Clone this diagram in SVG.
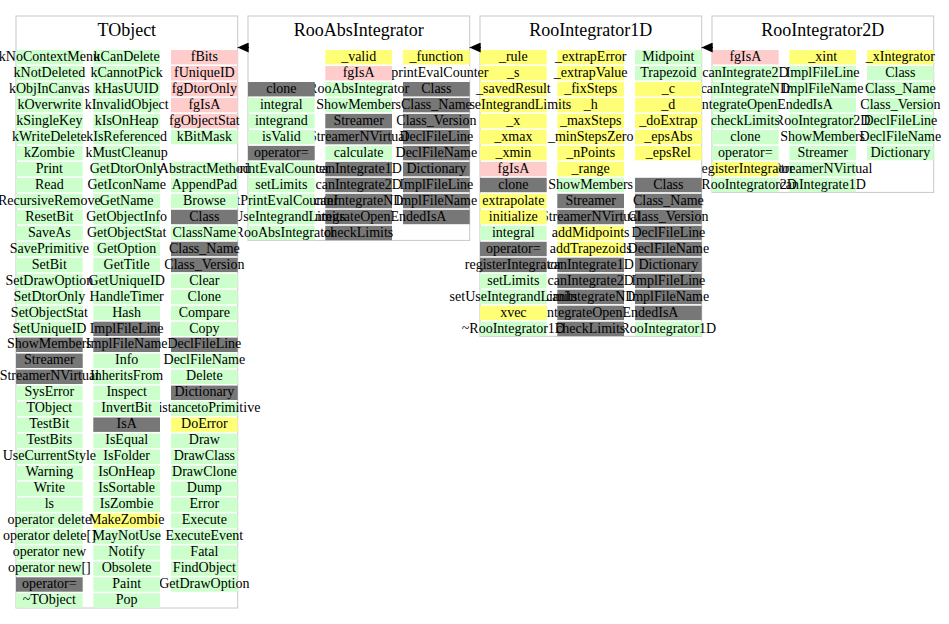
<svg xmlns="http://www.w3.org/2000/svg" width="949" height="624" viewBox="0 0 949 624">
<defs>
<style>
text{font-family:"Liberation Serif","Times New Roman",serif;font-size:14px;text-anchor:middle;fill:#000}
text.ttl{font-size:18px}
.box{fill:#fff;stroke:#c8c8c8;stroke-width:1}
.g{fill:#ccffcc}.p{fill:#ffcccc}.y{fill:#ffff77}.d{fill:#777777}.w{fill:#ffffff}
.edge{stroke:#000;stroke-width:1;fill:none}
</style>
<marker id="tri" viewBox="0 0 11 10" refX="11" refY="5" markerWidth="11" markerHeight="10" markerUnits="userSpaceOnUse" orient="auto">
<path d="M0,0 L11,5 L0,10 z" fill="#000"/>
</marker>
</defs>
<rect x="0" y="0" width="949" height="624" fill="#fff"/>

<g id="RooIntegrator2D">
<rect class="box" x="712" y="16" width="221.7" height="176.4"/>
<text class="ttl" x="822.8" y="36">RooIntegrator2D</text>
<g transform="translate(867,0)">
<rect class="y" x="0" y="50" width="66.7" height="14.4"/><text x="33.35" y="60.8">_xIntegrator</text>
<rect class="g" x="0" y="66" width="66.7" height="14.4"/><text x="33.35" y="76.8">Class</text>
<rect class="g" x="0" y="82" width="66.7" height="14.4"/><text x="33.35" y="92.8">Class_Name</text>
<rect class="g" x="0" y="97.9" width="66.7" height="14.4"/><text x="33.35" y="108.7">Class_Version</text>
<rect class="g" x="0" y="113.9" width="66.7" height="14.4"/><text x="33.35" y="124.7">DeclFileLine</text>
<rect class="g" x="0" y="129.9" width="66.7" height="14.4"/><text x="33.35" y="140.7">DeclFileName</text>
<rect class="g" x="0" y="145.9" width="66.7" height="14.4"/><text x="33.35" y="156.7">Dictionary</text>
</g>
<g transform="translate(789.3,0)">
<rect class="y" x="0" y="50" width="66.7" height="14.4"/><text x="33.35" y="60.8">_xint</text>
<rect class="g" x="0" y="66" width="66.7" height="14.4"/><text x="33.35" y="76.8">ImplFileLine</text>
<rect class="g" x="0" y="82" width="66.7" height="14.4"/><text x="33.35" y="92.8">ImplFileName</text>
<rect class="g" x="0" y="97.9" width="66.7" height="14.4"/><text x="33.35" y="108.7">IsA</text>
<rect class="g" x="0" y="113.9" width="66.7" height="14.4"/><text x="33.35" y="124.7">RooIntegrator2D</text>
<rect class="g" x="0" y="129.9" width="66.7" height="14.4"/><text x="33.35" y="140.7">ShowMembers</text>
<rect class="g" x="0" y="145.9" width="66.7" height="14.4"/><text x="33.35" y="156.7">Streamer</text>
<rect class="g" x="0" y="161.9" width="66.7" height="14.4"/><text x="33.35" y="172.7">StreamerNVirtual</text>
<rect class="g" x="0" y="177.8" width="66.7" height="14.4"/><text x="33.35" y="188.6">canIntegrate1D</text>
</g>
<g transform="translate(712,0)">
<rect class="p" x="0" y="50" width="66.7" height="14.4"/><text x="33.35" y="60.8">fgIsA</text>
<rect class="g" x="0" y="66" width="66.7" height="14.4"/><text x="33.35" y="76.8">canIntegrate2D</text>
<rect class="g" x="0" y="82" width="66.7" height="14.4"/><text x="33.35" y="92.8">canIntegrateND</text>
<rect class="g" x="0" y="97.9" width="66.7" height="14.4"/><text x="33.35" y="108.7">canIntegrateOpenEnded</text>
<rect class="g" x="0" y="113.9" width="66.7" height="14.4"/><text x="33.35" y="124.7">checkLimits</text>
<rect class="g" x="0" y="129.9" width="66.7" height="14.4"/><text x="33.35" y="140.7">clone</text>
<rect class="g" x="0" y="145.9" width="66.7" height="14.4"/><text x="33.35" y="156.7">operator=</text>
<rect class="y" x="0" y="161.9" width="66.7" height="14.4"/><text x="33.35" y="172.7">registerIntegrator</text>
<rect class="g" x="0" y="177.8" width="66.7" height="14.4"/><text x="33.35" y="188.6">~RooIntegrator2D</text>
</g>
</g>

<g id="RooIntegrator1D">
<rect class="box" x="480" y="16" width="221.7" height="320.3"/>
<text class="ttl" x="590.8" y="36">RooIntegrator1D</text>
<g transform="translate(635,0)">
<rect class="g" x="0" y="50" width="66.7" height="14.4"/><text x="33.35" y="60.8">Midpoint</text>
<rect class="g" x="0" y="66" width="66.7" height="14.4"/><text x="33.35" y="76.8">Trapezoid</text>
<rect class="y" x="0" y="82" width="66.7" height="14.4"/><text x="33.35" y="92.8">_c</text>
<rect class="y" x="0" y="97.9" width="66.7" height="14.4"/><text x="33.35" y="108.7">_d</text>
<rect class="y" x="0" y="113.9" width="66.7" height="14.4"/><text x="33.35" y="124.7">_doExtrap</text>
<rect class="y" x="0" y="129.9" width="66.7" height="14.4"/><text x="33.35" y="140.7">_epsAbs</text>
<rect class="y" x="0" y="145.9" width="66.7" height="14.4"/><text x="33.35" y="156.7">_epsRel</text>
<rect class="d" x="0" y="177.8" width="66.7" height="14.4"/><text x="33.35" y="188.6">Class</text>
<rect class="d" x="0" y="193.8" width="66.7" height="14.4"/><text x="33.35" y="204.6">Class_Name</text>
<rect class="d" x="0" y="209.8" width="66.7" height="14.4"/><text x="33.35" y="220.6">Class_Version</text>
<rect class="d" x="0" y="225.8" width="66.7" height="14.4"/><text x="33.35" y="236.6">DeclFileLine</text>
<rect class="d" x="0" y="241.8" width="66.7" height="14.4"/><text x="33.35" y="252.6">DeclFileName</text>
<rect class="d" x="0" y="257.7" width="66.7" height="14.4"/><text x="33.35" y="268.5">Dictionary</text>
<rect class="d" x="0" y="273.7" width="66.7" height="14.4"/><text x="33.35" y="284.5">ImplFileLine</text>
<rect class="d" x="0" y="289.7" width="66.7" height="14.4"/><text x="33.35" y="300.5">ImplFileName</text>
<rect class="d" x="0" y="305.7" width="66.7" height="14.4"/><text x="33.35" y="316.5">IsA</text>
<rect class="g" x="0" y="321.7" width="66.7" height="14.4"/><text x="33.35" y="332.5">RooIntegrator1D</text>
</g>
<g transform="translate(557.3,0)">
<rect class="y" x="0" y="50" width="66.7" height="14.4"/><text x="33.35" y="60.8">_extrapError</text>
<rect class="y" x="0" y="66" width="66.7" height="14.4"/><text x="33.35" y="76.8">_extrapValue</text>
<rect class="y" x="0" y="82" width="66.7" height="14.4"/><text x="33.35" y="92.8">_fixSteps</text>
<rect class="y" x="0" y="97.9" width="66.7" height="14.4"/><text x="33.35" y="108.7">_h</text>
<rect class="y" x="0" y="113.9" width="66.7" height="14.4"/><text x="33.35" y="124.7">_maxSteps</text>
<rect class="y" x="0" y="129.9" width="66.7" height="14.4"/><text x="33.35" y="140.7">_minStepsZero</text>
<rect class="y" x="0" y="145.9" width="66.7" height="14.4"/><text x="33.35" y="156.7">_nPoints</text>
<rect class="y" x="0" y="161.9" width="66.7" height="14.4"/><text x="33.35" y="172.7">_range</text>
<rect class="g" x="0" y="177.8" width="66.7" height="14.4"/><text x="33.35" y="188.6">ShowMembers</text>
<rect class="d" x="0" y="193.8" width="66.7" height="14.4"/><text x="33.35" y="204.6">Streamer</text>
<rect class="d" x="0" y="209.8" width="66.7" height="14.4"/><text x="33.35" y="220.6">StreamerNVirtual</text>
<rect class="y" x="0" y="225.8" width="66.7" height="14.4"/><text x="33.35" y="236.6">addMidpoints</text>
<rect class="y" x="0" y="241.8" width="66.7" height="14.4"/><text x="33.35" y="252.6">addTrapezoids</text>
<rect class="d" x="0" y="257.7" width="66.7" height="14.4"/><text x="33.35" y="268.5">canIntegrate1D</text>
<rect class="d" x="0" y="273.7" width="66.7" height="14.4"/><text x="33.35" y="284.5">canIntegrate2D</text>
<rect class="d" x="0" y="289.7" width="66.7" height="14.4"/><text x="33.35" y="300.5">canIntegrateND</text>
<rect class="d" x="0" y="305.7" width="66.7" height="14.4"/><text x="33.35" y="316.5">canIntegrateOpenEnded</text>
<rect class="d" x="0" y="321.7" width="66.7" height="14.4"/><text x="33.35" y="332.5">checkLimits</text>
</g>
<g transform="translate(480,0)">
<rect class="y" x="0" y="50" width="66.7" height="14.4"/><text x="33.35" y="60.8">_rule</text>
<rect class="y" x="0" y="66" width="66.7" height="14.4"/><text x="33.35" y="76.8">_s</text>
<rect class="y" x="0" y="82" width="66.7" height="14.4"/><text x="33.35" y="92.8">_savedResult</text>
<rect class="y" x="0" y="97.9" width="66.7" height="14.4"/><text x="33.35" y="108.7">_useIntegrandLimits</text>
<rect class="y" x="0" y="113.9" width="66.7" height="14.4"/><text x="33.35" y="124.7">_x</text>
<rect class="y" x="0" y="129.9" width="66.7" height="14.4"/><text x="33.35" y="140.7">_xmax</text>
<rect class="y" x="0" y="145.9" width="66.7" height="14.4"/><text x="33.35" y="156.7">_xmin</text>
<rect class="p" x="0" y="161.9" width="66.7" height="14.4"/><text x="33.35" y="172.7">fgIsA</text>
<rect class="d" x="0" y="177.8" width="66.7" height="14.4"/><text x="33.35" y="188.6">clone</text>
<rect class="y" x="0" y="193.8" width="66.7" height="14.4"/><text x="33.35" y="204.6">extrapolate</text>
<rect class="y" x="0" y="209.8" width="66.7" height="14.4"/><text x="33.35" y="220.6">initialize</text>
<rect class="g" x="0" y="225.8" width="66.7" height="14.4"/><text x="33.35" y="236.6">integral</text>
<rect class="d" x="0" y="241.8" width="66.7" height="14.4"/><text x="33.35" y="252.6">operator=</text>
<rect class="d" x="0" y="257.7" width="66.7" height="14.4"/><text x="33.35" y="268.5">registerIntegrator</text>
<rect class="g" x="0" y="273.7" width="66.7" height="14.4"/><text x="33.35" y="284.5">setLimits</text>
<rect class="g" x="0" y="289.7" width="66.7" height="14.4"/><text x="33.35" y="300.5">setUseIntegrandLimits</text>
<rect class="y" x="0" y="305.7" width="66.7" height="14.4"/><text x="33.35" y="316.5">xvec</text>
<rect class="g" x="0" y="321.7" width="66.7" height="14.4"/><text x="33.35" y="332.5">~RooIntegrator1D</text>
</g>
</g>

<g id="RooAbsIntegrator">
<rect class="box" x="248" y="16" width="221.7" height="224.4"/>
<text class="ttl" x="358.8" y="36">RooAbsIntegrator</text>
<g transform="translate(403,0)">
<rect class="y" x="0" y="50" width="66.7" height="14.4"/><text x="33.35" y="60.8">_function</text>
<rect class="w" x="0" y="66" width="66.7" height="14.4"/><text x="33.35" y="76.8">_printEvalCounter</text>
<rect class="d" x="0" y="82" width="66.7" height="14.4"/><text x="33.35" y="92.8">Class</text>
<rect class="d" x="0" y="97.9" width="66.7" height="14.4"/><text x="33.35" y="108.7">Class_Name</text>
<rect class="d" x="0" y="113.9" width="66.7" height="14.4"/><text x="33.35" y="124.7">Class_Version</text>
<rect class="d" x="0" y="129.9" width="66.7" height="14.4"/><text x="33.35" y="140.7">DeclFileLine</text>
<rect class="d" x="0" y="145.9" width="66.7" height="14.4"/><text x="33.35" y="156.7">DeclFileName</text>
<rect class="d" x="0" y="161.9" width="66.7" height="14.4"/><text x="33.35" y="172.7">Dictionary</text>
<rect class="d" x="0" y="177.8" width="66.7" height="14.4"/><text x="33.35" y="188.6">ImplFileLine</text>
<rect class="d" x="0" y="193.8" width="66.7" height="14.4"/><text x="33.35" y="204.6">ImplFileName</text>
<rect class="d" x="0" y="209.8" width="66.7" height="14.4"/><text x="33.35" y="220.6">IsA</text>
</g>
<g transform="translate(325.3,0)">
<rect class="y" x="0" y="50" width="66.7" height="14.4"/><text x="33.35" y="60.8">_valid</text>
<rect class="p" x="0" y="66" width="66.7" height="14.4"/><text x="33.35" y="76.8">fgIsA</text>
<rect class="g" x="0" y="82" width="66.7" height="14.4"/><text x="33.35" y="92.8">RooAbsIntegrator</text>
<rect class="g" x="0" y="97.9" width="66.7" height="14.4"/><text x="33.35" y="108.7">ShowMembers</text>
<rect class="d" x="0" y="113.9" width="66.7" height="14.4"/><text x="33.35" y="124.7">Streamer</text>
<rect class="d" x="0" y="129.9" width="66.7" height="14.4"/><text x="33.35" y="140.7">StreamerNVirtual</text>
<rect class="g" x="0" y="145.9" width="66.7" height="14.4"/><text x="33.35" y="156.7">calculate</text>
<rect class="d" x="0" y="161.9" width="66.7" height="14.4"/><text x="33.35" y="172.7">canIntegrate1D</text>
<rect class="d" x="0" y="177.8" width="66.7" height="14.4"/><text x="33.35" y="188.6">canIntegrate2D</text>
<rect class="d" x="0" y="193.8" width="66.7" height="14.4"/><text x="33.35" y="204.6">canIntegrateND</text>
<rect class="d" x="0" y="209.8" width="66.7" height="14.4"/><text x="33.35" y="220.6">canIntegrateOpenEnded</text>
<rect class="d" x="0" y="225.8" width="66.7" height="14.4"/><text x="33.35" y="236.6">checkLimits</text>
</g>
<g transform="translate(248,0)">
<rect class="d" x="0" y="82" width="66.7" height="14.4"/><text x="33.35" y="92.8">clone</text>
<rect class="g" x="0" y="97.9" width="66.7" height="14.4"/><text x="33.35" y="108.7">integral</text>
<rect class="g" x="0" y="113.9" width="66.7" height="14.4"/><text x="33.35" y="124.7">integrand</text>
<rect class="g" x="0" y="129.9" width="66.7" height="14.4"/><text x="33.35" y="140.7">isValid</text>
<rect class="d" x="0" y="145.9" width="66.7" height="14.4"/><text x="33.35" y="156.7">operator=</text>
<rect class="g" x="0" y="161.9" width="66.7" height="14.4"/><text x="33.35" y="172.7">printEvalCounter</text>
<rect class="g" x="0" y="177.8" width="66.7" height="14.4"/><text x="33.35" y="188.6">setLimits</text>
<rect class="g" x="0" y="193.8" width="66.7" height="14.4"/><text x="33.35" y="204.6">setPrintEvalCounter</text>
<rect class="g" x="0" y="209.8" width="66.7" height="14.4"/><text x="33.35" y="220.6">setUseIntegrandLimits</text>
<rect class="g" x="0" y="225.8" width="66.7" height="14.4"/><text x="33.35" y="236.6">~RooAbsIntegrator</text>
</g>
</g>

<g id="TObject">
<rect class="box" x="16" y="16" width="221.7" height="592"/>
<text class="ttl" x="126.8" y="36">TObject</text>
<g transform="translate(171,0)">
<rect class="p" x="0" y="50" width="66.7" height="14.4"/><text x="33.35" y="60.8">fBits</text>
<rect class="p" x="0" y="66" width="66.7" height="14.4"/><text x="33.35" y="76.8">fUniqueID</text>
<rect class="p" x="0" y="82" width="66.7" height="14.4"/><text x="33.35" y="92.8">fgDtorOnly</text>
<rect class="p" x="0" y="97.9" width="66.7" height="14.4"/><text x="33.35" y="108.7">fgIsA</text>
<rect class="p" x="0" y="113.9" width="66.7" height="14.4"/><text x="33.35" y="124.7">fgObjectStat</text>
<rect class="g" x="0" y="129.9" width="66.7" height="14.4"/><text x="33.35" y="140.7">kBitMask</text>
<rect class="g" x="0" y="161.9" width="66.7" height="14.4"/><text x="33.35" y="172.7">AbstractMethod</text>
<rect class="g" x="0" y="177.8" width="66.7" height="14.4"/><text x="33.35" y="188.6">AppendPad</text>
<rect class="g" x="0" y="193.8" width="66.7" height="14.4"/><text x="33.35" y="204.6">Browse</text>
<rect class="d" x="0" y="209.8" width="66.7" height="14.4"/><text x="33.35" y="220.6">Class</text>
<rect class="g" x="0" y="225.8" width="66.7" height="14.4"/><text x="33.35" y="236.6">ClassName</text>
<rect class="d" x="0" y="241.8" width="66.7" height="14.4"/><text x="33.35" y="252.6">Class_Name</text>
<rect class="d" x="0" y="257.7" width="66.7" height="14.4"/><text x="33.35" y="268.5">Class_Version</text>
<rect class="g" x="0" y="273.7" width="66.7" height="14.4"/><text x="33.35" y="284.5">Clear</text>
<rect class="g" x="0" y="289.7" width="66.7" height="14.4"/><text x="33.35" y="300.5">Clone</text>
<rect class="g" x="0" y="305.7" width="66.7" height="14.4"/><text x="33.35" y="316.5">Compare</text>
<rect class="g" x="0" y="321.7" width="66.7" height="14.4"/><text x="33.35" y="332.5">Copy</text>
<rect class="d" x="0" y="337.6" width="66.7" height="14.4"/><text x="33.35" y="348.4">DeclFileLine</text>
<rect class="g" x="0" y="353.6" width="66.7" height="14.4"/><text x="33.35" y="364.4">DeclFileName</text>
<rect class="g" x="0" y="369.6" width="66.7" height="14.4"/><text x="33.35" y="380.4">Delete</text>
<rect class="d" x="0" y="385.6" width="66.7" height="14.4"/><text x="33.35" y="396.4">Dictionary</text>
<rect class="g" x="0" y="401.6" width="66.7" height="14.4"/><text x="33.35" y="412.4">DistancetoPrimitive</text>
<rect class="y" x="0" y="417.5" width="66.7" height="14.4"/><text x="33.35" y="428.3">DoError</text>
<rect class="g" x="0" y="433.5" width="66.7" height="14.4"/><text x="33.35" y="444.3">Draw</text>
<rect class="g" x="0" y="449.5" width="66.7" height="14.4"/><text x="33.35" y="460.3">DrawClass</text>
<rect class="g" x="0" y="465.5" width="66.7" height="14.4"/><text x="33.35" y="476.3">DrawClone</text>
<rect class="g" x="0" y="481.5" width="66.7" height="14.4"/><text x="33.35" y="492.3">Dump</text>
<rect class="g" x="0" y="497.4" width="66.7" height="14.4"/><text x="33.35" y="508.2">Error</text>
<rect class="g" x="0" y="513.4" width="66.7" height="14.4"/><text x="33.35" y="524.2">Execute</text>
<rect class="g" x="0" y="529.4" width="66.7" height="14.4"/><text x="33.35" y="540.2">ExecuteEvent</text>
<rect class="g" x="0" y="545.4" width="66.7" height="14.4"/><text x="33.35" y="556.2">Fatal</text>
<rect class="g" x="0" y="561.4" width="66.7" height="14.4"/><text x="33.35" y="572.2">FindObject</text>
<rect class="g" x="0" y="577.3" width="66.7" height="14.4"/><text x="33.35" y="588.1">GetDrawOption</text>
</g>
<g transform="translate(93.3,0)">
<rect class="g" x="0" y="50" width="66.7" height="14.4"/><text x="33.35" y="60.8">kCanDelete</text>
<rect class="g" x="0" y="66" width="66.7" height="14.4"/><text x="33.35" y="76.8">kCannotPick</text>
<rect class="g" x="0" y="82" width="66.7" height="14.4"/><text x="33.35" y="92.8">kHasUUID</text>
<rect class="g" x="0" y="97.9" width="66.7" height="14.4"/><text x="33.35" y="108.7">kInvalidObject</text>
<rect class="g" x="0" y="113.9" width="66.7" height="14.4"/><text x="33.35" y="124.7">kIsOnHeap</text>
<rect class="g" x="0" y="129.9" width="66.7" height="14.4"/><text x="33.35" y="140.7">kIsReferenced</text>
<rect class="g" x="0" y="145.9" width="66.7" height="14.4"/><text x="33.35" y="156.7">kMustCleanup</text>
<rect class="g" x="0" y="161.9" width="66.7" height="14.4"/><text x="33.35" y="172.7">GetDtorOnly</text>
<rect class="g" x="0" y="177.8" width="66.7" height="14.4"/><text x="33.35" y="188.6">GetIconName</text>
<rect class="g" x="0" y="193.8" width="66.7" height="14.4"/><text x="33.35" y="204.6">GetName</text>
<rect class="g" x="0" y="209.8" width="66.7" height="14.4"/><text x="33.35" y="220.6">GetObjectInfo</text>
<rect class="g" x="0" y="225.8" width="66.7" height="14.4"/><text x="33.35" y="236.6">GetObjectStat</text>
<rect class="g" x="0" y="241.8" width="66.7" height="14.4"/><text x="33.35" y="252.6">GetOption</text>
<rect class="g" x="0" y="257.7" width="66.7" height="14.4"/><text x="33.35" y="268.5">GetTitle</text>
<rect class="g" x="0" y="273.7" width="66.7" height="14.4"/><text x="33.35" y="284.5">GetUniqueID</text>
<rect class="g" x="0" y="289.7" width="66.7" height="14.4"/><text x="33.35" y="300.5">HandleTimer</text>
<rect class="g" x="0" y="305.7" width="66.7" height="14.4"/><text x="33.35" y="316.5">Hash</text>
<rect class="d" x="0" y="321.7" width="66.7" height="14.4"/><text x="33.35" y="332.5">ImplFileLine</text>
<rect class="d" x="0" y="337.6" width="66.7" height="14.4"/><text x="33.35" y="348.4">ImplFileName</text>
<rect class="g" x="0" y="353.6" width="66.7" height="14.4"/><text x="33.35" y="364.4">Info</text>
<rect class="g" x="0" y="369.6" width="66.7" height="14.4"/><text x="33.35" y="380.4">InheritsFrom</text>
<rect class="g" x="0" y="385.6" width="66.7" height="14.4"/><text x="33.35" y="396.4">Inspect</text>
<rect class="g" x="0" y="401.6" width="66.7" height="14.4"/><text x="33.35" y="412.4">InvertBit</text>
<rect class="d" x="0" y="417.5" width="66.7" height="14.4"/><text x="33.35" y="428.3">IsA</text>
<rect class="g" x="0" y="433.5" width="66.7" height="14.4"/><text x="33.35" y="444.3">IsEqual</text>
<rect class="g" x="0" y="449.5" width="66.7" height="14.4"/><text x="33.35" y="460.3">IsFolder</text>
<rect class="g" x="0" y="465.5" width="66.7" height="14.4"/><text x="33.35" y="476.3">IsOnHeap</text>
<rect class="g" x="0" y="481.5" width="66.7" height="14.4"/><text x="33.35" y="492.3">IsSortable</text>
<rect class="g" x="0" y="497.4" width="66.7" height="14.4"/><text x="33.35" y="508.2">IsZombie</text>
<rect class="y" x="0" y="513.4" width="66.7" height="14.4"/><text x="33.35" y="524.2">MakeZombie</text>
<rect class="g" x="0" y="529.4" width="66.7" height="14.4"/><text x="33.35" y="540.2">MayNotUse</text>
<rect class="g" x="0" y="545.4" width="66.7" height="14.4"/><text x="33.35" y="556.2">Notify</text>
<rect class="g" x="0" y="561.4" width="66.7" height="14.4"/><text x="33.35" y="572.2">Obsolete</text>
<rect class="g" x="0" y="577.3" width="66.7" height="14.4"/><text x="33.35" y="588.1">Paint</text>
<rect class="g" x="0" y="593.3" width="66.7" height="14.4"/><text x="33.35" y="604.1">Pop</text>
</g>
<g transform="translate(16,0)">
<rect class="g" x="0" y="50" width="66.7" height="14.4"/><text x="33.35" y="60.8">kNoContextMenu</text>
<rect class="g" x="0" y="66" width="66.7" height="14.4"/><text x="33.35" y="76.8">kNotDeleted</text>
<rect class="g" x="0" y="82" width="66.7" height="14.4"/><text x="33.35" y="92.8">kObjInCanvas</text>
<rect class="g" x="0" y="97.9" width="66.7" height="14.4"/><text x="33.35" y="108.7">kOverwrite</text>
<rect class="g" x="0" y="113.9" width="66.7" height="14.4"/><text x="33.35" y="124.7">kSingleKey</text>
<rect class="g" x="0" y="129.9" width="66.7" height="14.4"/><text x="33.35" y="140.7">kWriteDelete</text>
<rect class="g" x="0" y="145.9" width="66.7" height="14.4"/><text x="33.35" y="156.7">kZombie</text>
<rect class="g" x="0" y="161.9" width="66.7" height="14.4"/><text x="33.35" y="172.7">Print</text>
<rect class="g" x="0" y="177.8" width="66.7" height="14.4"/><text x="33.35" y="188.6">Read</text>
<rect class="g" x="0" y="193.8" width="66.7" height="14.4"/><text x="33.35" y="204.6">RecursiveRemove</text>
<rect class="g" x="0" y="209.8" width="66.7" height="14.4"/><text x="33.35" y="220.6">ResetBit</text>
<rect class="g" x="0" y="225.8" width="66.7" height="14.4"/><text x="33.35" y="236.6">SaveAs</text>
<rect class="g" x="0" y="241.8" width="66.7" height="14.4"/><text x="33.35" y="252.6">SavePrimitive</text>
<rect class="g" x="0" y="257.7" width="66.7" height="14.4"/><text x="33.35" y="268.5">SetBit</text>
<rect class="g" x="0" y="273.7" width="66.7" height="14.4"/><text x="33.35" y="284.5">SetDrawOption</text>
<rect class="g" x="0" y="289.7" width="66.7" height="14.4"/><text x="33.35" y="300.5">SetDtorOnly</text>
<rect class="g" x="0" y="305.7" width="66.7" height="14.4"/><text x="33.35" y="316.5">SetObjectStat</text>
<rect class="g" x="0" y="321.7" width="66.7" height="14.4"/><text x="33.35" y="332.5">SetUniqueID</text>
<rect class="d" x="0" y="337.6" width="66.7" height="14.4"/><text x="33.35" y="348.4">ShowMembers</text>
<rect class="d" x="0" y="353.6" width="66.7" height="14.4"/><text x="33.35" y="364.4">Streamer</text>
<rect class="d" x="0" y="369.6" width="66.7" height="14.4"/><text x="33.35" y="380.4">StreamerNVirtual</text>
<rect class="g" x="0" y="385.6" width="66.7" height="14.4"/><text x="33.35" y="396.4">SysError</text>
<rect class="g" x="0" y="401.6" width="66.7" height="14.4"/><text x="33.35" y="412.4">TObject</text>
<rect class="g" x="0" y="417.5" width="66.7" height="14.4"/><text x="33.35" y="428.3">TestBit</text>
<rect class="g" x="0" y="433.5" width="66.7" height="14.4"/><text x="33.35" y="444.3">TestBits</text>
<rect class="g" x="0" y="449.5" width="66.7" height="14.4"/><text x="33.35" y="460.3">UseCurrentStyle</text>
<rect class="g" x="0" y="465.5" width="66.7" height="14.4"/><text x="33.35" y="476.3">Warning</text>
<rect class="g" x="0" y="481.5" width="66.7" height="14.4"/><text x="33.35" y="492.3">Write</text>
<rect class="g" x="0" y="497.4" width="66.7" height="14.4"/><text x="33.35" y="508.2">ls</text>
<rect class="g" x="0" y="513.4" width="66.7" height="14.4"/><text x="33.35" y="524.2">operator delete</text>
<rect class="g" x="0" y="529.4" width="66.7" height="14.4"/><text x="33.35" y="540.2">operator delete[]</text>
<rect class="g" x="0" y="545.4" width="66.7" height="14.4"/><text x="33.35" y="556.2">operator new</text>
<rect class="g" x="0" y="561.4" width="66.7" height="14.4"/><text x="33.35" y="572.2">operator new[]</text>
<rect class="d" x="0" y="577.3" width="66.7" height="14.4"/><text x="33.35" y="588.1">operator=</text>
<rect class="g" x="0" y="593.3" width="66.7" height="14.4"/><text x="33.35" y="604.1">~TObject</text>
</g>
</g>

<g id="connectors">
<line class="edge" x1="249" y1="47.5" x2="237.7" y2="47.5" marker-end="url(#tri)"/>
<line class="edge" x1="481" y1="47.5" x2="469.7" y2="47.5" marker-end="url(#tri)"/>
<line class="edge" x1="713" y1="47.5" x2="701.7" y2="47.5" marker-end="url(#tri)"/>
</g>
</svg>
